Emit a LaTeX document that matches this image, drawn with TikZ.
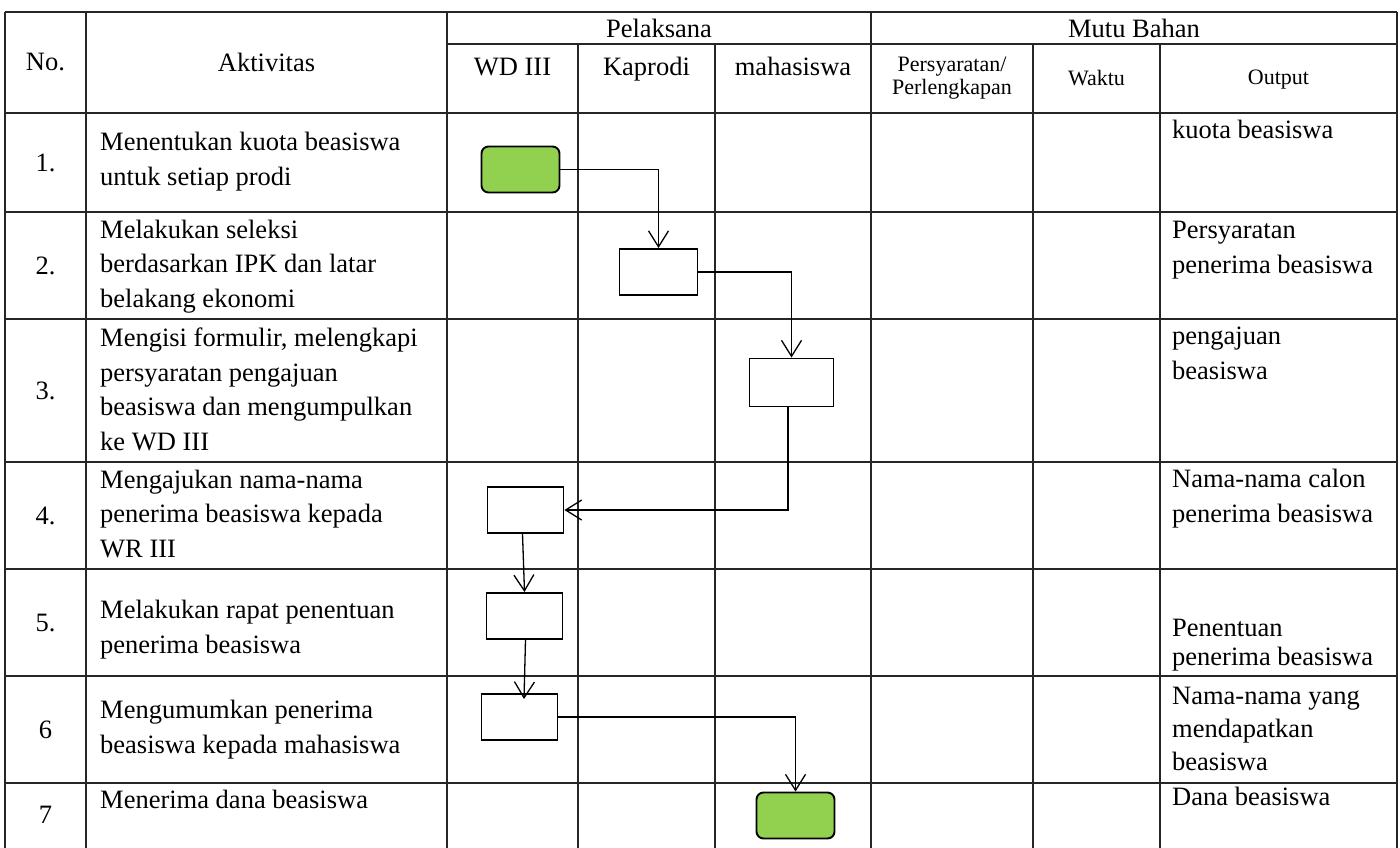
\documentclass[tikz,border=0pt]{standalone}
\usepackage{fontspec}
\setmainfont{Liberation Serif}
\usepackage{xcolor}
\usetikzlibrary{arrows.meta,positioning}

\definecolor{startgreen}{HTML}{92D050}
\newcommand{\rowfont}{\fontsize{26.5}{34.5}\selectfont}
\newcommand{\headsmall}{\fontsize{22}{23}\selectfont}

\begin{document}
\begin{tikzpicture}[x=1pt, y=-1pt,
  >={Straight Barb[length=16pt, width=20pt]},
  gridline/.style={line width=1.5pt, draw=black!85},
  proc/.style={draw, line width=1.9pt, minimum width=78pt, minimum height=46pt, inner sep=0pt},
  term/.style={proc, fill=startgreen, rounded corners=7pt},
  flow/.style={->, line width=1.3pt},
  txt/.style={font=\rowfont, inner sep=0pt, align=left, anchor=base west},
  num/.style={font=\rowfont, inner sep=0pt},
  head/.style={font=\rowfont, inner sep=0pt, align=center}]
\useasboundingbox (0,0) rectangle (1400,847);

% table grid
\foreach \y in {12,113,212,319,462,569,676,783}
  \draw[gridline] (5,\y) -- (1397,\y);
\draw[gridline] (447,44) -- (1397,44);
\foreach \x in {5,86,447,871,1397}
  \draw[gridline] (\x,12) -- (\x,850);
\foreach \x in {578,715,1033,1160}
  \draw[gridline] (\x,44) -- (\x,850);

% header
\node[head] (hno) at (45.5,62.5) {No.};
\node[head] (hakt) at (266.5,62.5) {Aktivitas};
\node[head] (hpel) at (659,28) {Pelaksana};
\node[head] (hmutu) at (1134,28) {Mutu Bahan};
\node[head, anchor=base] (hwd) at (512.5,75) {WD III};
\node[head, anchor=base] (hkap) at (646.5,75) {Kaprodi};
\node[head, anchor=base] (hmhs) at (793,75) {mahasiswa};
\node[head, font=\headsmall] (hsyarat) at (952,78) {Persyaratan/\\Perlengkapan};
\node[head, font=\headsmall] (hwaktu) at (1096.5,78) {Waktu};
\node[head, font=\headsmall] (hout) at (1278.5,80) {Output};

% numbers
\node[num] (n1) at (45.5,162.5) {1.};
\node[num] (n2) at (45.5,265.5) {2.};
\node[num] (n3) at (45.5,390.5) {3.};
\node[num] (n4) at (45.5,515.5) {4.};
\node[num] (n5) at (45.5,622.5) {5.};
\node[num] (n6) at (45.5,729.5) {6};
\node[num] (n7) at (45.5,815) {7};

% activities (anchored on the last line)
\node[txt] (a1) at (100,185) {Menentukan kuota beasiswa\\untuk setiap prodi};
\node[txt] (a2) at (100,307) {Melakukan seleksi\\berdasarkan IPK dan latar\\belakang ekonomi};
\node[txt] (a3) at (100,450) {Mengisi formulir, melengkapi\\persyaratan pengajuan\\beasiswa dan mengumpulkan\\ke WD III};
\node[txt] (a4) at (100,557) {Mengajukan nama-nama\\penerima beasiswa kepada\\WR III};
\node[txt] (a5) at (100,653) {Melakukan rapat penentuan\\penerima beasiswa};
\node[txt] (a6) at (100,753) {Mengumumkan penerima\\beasiswa kepada mahasiswa};
\node[txt] (a7) at (100,808) {Menerima dana beasiswa};

% outputs
\node[txt] (o1) at (1172,138) {kuota beasiswa};
\node[txt] (o2) at (1172,273) {Persyaratan\\penerima beasiswa};
\node[txt] (o3) at (1172,379) {pengajuan\\beasiswa};
\node[txt] (o4) at (1172,522) {Nama-nama calon\\penerima beasiswa};
\node[txt, font=\fontsize{26.5}{29}\selectfont] (o5) at (1172,665) {Penentuan\\penerima beasiswa};
\node[txt, font=\fontsize{26.5}{33}\selectfont] (o6) at (1172,770) {Nama-nama yang\\mendapatkan\\beasiswa};
\node[txt] (o7) at (1172,805) {Dana beasiswa};

% flow boxes
\node[term] (b1) at (520.5,169.5) {};
\node[proc] (b2) at (658.5,272) {};
\node[proc, minimum width=84pt, minimum height=48pt] (b3) at (791.5,382.5) {};
\node[proc, minimum width=76pt] (b4) at (525.5,510) {};
\node[proc, minimum width=76pt] (b5) at (524.5,616) {};
\node[proc, minimum width=76pt] (b6) at (519.5,717) {};
\node[term] (b7) at (795.5,815.5) {};

% connectors
\draw[flow] (b1.east) -| (b2.north);
\draw[flow] (b2.east) -| (b3.north);
\draw[flow] ([xshift=-3.5pt]b3.south) |- (b4.east);
\draw[flow] ([xshift=-3pt]b4.south) -- (b5.north);
\draw[flow] ([xshift=1pt]b5.south) -- ([xshift=4.5pt,yshift=-6pt]b6.north);
\draw[flow] (b6.east) -| (b7.north);
\end{tikzpicture}
\end{document}
